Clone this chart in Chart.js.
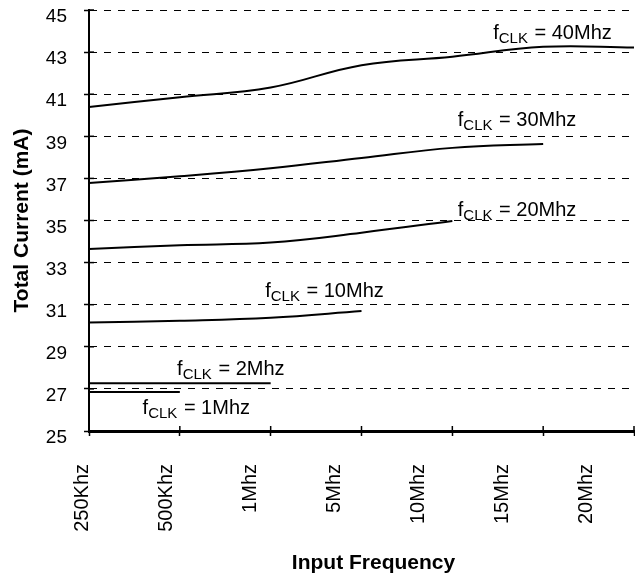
<!DOCTYPE html>
<html><head><meta charset="utf-8">
<script src="https://cdn.jsdelivr.net/npm/chart.js@4/dist/chart.umd.min.js"></script>
<style>html,body{margin:0;padding:0;background:#fff}canvas{display:block}</style>
</head><body>
<canvas id="c" width="635" height="577"></canvas>
<script>
// ---- data ----
const categories = ['250Khz', '500Khz', '1Mhz', '5Mhz', '10Mhz', '15Mhz', '20Mhz'];
const yTickValues = [25, 27, 29, 31, 33, 35, 37, 39, 41, 43, 45];
const clockNames = ['1Mhz', '2Mhz', '10Mhz', '20Mhz', '30Mhz', '40Mhz'];
const clk1 = [26.85, 26.85];
const clk2 = [27.27, 27.27, 27.27];
const clk10 = [30.16, 30.24, 30.38, 30.70];
const clk20 = [33.65, 33.83, 33.95, 34.42, 34.98];
const clk30 = [36.78, 37.10, 37.48, 37.97, 38.45, 38.64];
const clk40 = [40.39, 40.86, 41.32, 42.38, 42.78, 43.25, 43.22];
const seriesValues = [clk1, clk2, clk10, clk20, clk30, clk40];
// label anchors (category units, mA) for the fCLK annotations
const labelX = [0.59, 0.97, 1.94, 4.06, 4.06, 4.45];
const labelY = [25.81, 27.66, 31.37, 35.21, 39.49, 43.62];
const xTitle = 'Input Frequency';

const FONT = "'Liberation Sans', Arial, Helvetica, sans-serif";
Chart.defaults.font.family = FONT;
Chart.defaults.color = '#000';

const innerTicks = {
  id: 'innerTicks',
  afterDraw(chart) {
    const ctx = chart.ctx, xs = chart.scales.x, ys = chart.scales.y;
    ctx.save();
    ctx.strokeStyle = '#000';
    ctx.lineWidth = 1.5;
    ys.ticks.forEach(t => {
      const py = ys.getPixelForValue(t.value);
      ctx.beginPath(); ctx.moveTo(ys.right, py); ctx.lineTo(ys.right + 5, py); ctx.stroke();
    });
    xs.ticks.forEach((t, i) => {
      const px = xs.getPixelForTick(i);
      ctx.beginPath(); ctx.moveTo(px, xs.top); ctx.lineTo(px, xs.top - 5); ctx.stroke();
    });
    // x axis title (slightly right of centre, as in the original)
    const xl = chart.scales.xl;
    ctx.fillStyle = '#000';
    ctx.font = 'bold 21px ' + FONT;
    ctx.textAlign = 'center';
    ctx.textBaseline = 'middle';
    ctx.fillText(xTitle, (xl.left + xl.right) / 2 + 12, xl.bottom - 14);
    ctx.restore();
  }
};

const clockLabels = {
  id: 'clockLabels',
  afterDatasetsDraw(chart) {
    const ctx = chart.ctx, xs = chart.scales.x, ys = chart.scales.y;
    ctx.save();
    ctx.fillStyle = '#000';
    ctx.textBaseline = 'alphabetic';
    ctx.textAlign = 'left';
    clockNames.forEach((name, i) => {
      let px = xs.getPixelForValue(labelX[i]);
      const py = ys.getPixelForValue(labelY[i]);
      ctx.font = '20px ' + FONT;
      ctx.fillText('f', px, py);
      px += ctx.measureText('f').width;
      ctx.font = '15px ' + FONT;
      ctx.fillText('CLK', px, py + 4);
      px += ctx.measureText('CLK').width;
      ctx.font = '20px ' + FONT;
      ctx.fillText(' = ' + name, px + 1, py);
    });
    ctx.restore();
  }
};

new Chart(document.getElementById('c'), {
  type: 'line',
  data: {
    labels: categories,
    datasets: seriesValues.map((vals, i) => ({
      label: 'fCLK = ' + clockNames[i],
      data: vals,
      xAxisID: 'x',
      yAxisID: 'y',
      borderColor: '#000',
      borderWidth: 2,
      pointRadius: 0,
      fill: false,
      tension: 0.4
    }))
  },
  options: {
    responsive: false,
    animation: false,
    devicePixelRatio: 1,
    layout: { padding: { top: 10, right: 1, left: 0, bottom: 0 } },
    plugins: { legend: { display: false }, tooltip: { enabled: false } },
    scales: {
      x: {
        type: 'category', position: 'bottom', offset: false, weight: 0,
        ticks: { display: false },
        grid: { display: true, offset: false, drawOnChartArea: false, drawTicks: true, tickLength: 5, color: '#000', tickColor: '#000', tickWidth: 1.5 },
        border: { display: true, color: '#000', width: 3 },
        afterFit(s) { s.height = 6; s.paddingLeft = 0; s.paddingRight = 0; }
      },
      xl: {
        type: 'linear', position: 'bottom', weight: 1, min: 0.0833, max: 6.571,
        afterBuildTicks(s) { s.ticks = categories.map((_, i) => ({ value: i })); },
        ticks: {
          autoSkip: false, maxRotation: 90, minRotation: 90, padding: 19,
          color: '#000', font: { size: 20 },
          callback: (v) => categories[v]
        },
        grid: { display: false },
        border: { display: false },
        title: { display: false },
        afterFit(s) { s.height = 577 - 431 - 6; s.paddingLeft = 0; s.paddingRight = 0; }
      },
      y: {
        type: 'linear', position: 'left', min: 25, max: 45,
        afterBuildTicks(s) { s.ticks = yTickValues.map(v => ({ value: v })); },
        ticks: { color: '#000', font: { size: 19 }, padding: 17, labelOffset: 7 },
        grid: { color: '#000', lineWidth: 1, drawOnChartArea: true, drawTicks: true, tickLength: 5, tickColor: '#000', tickWidth: 1.5 },
        border: { display: true, color: '#000', width: 2, dash: [7, 7] },
        title: { display: true, text: 'Total Current (mA)', color: '#000', font: { size: 21, weight: 'bold' }, padding: { top: 10, bottom: 0 } },
        afterFit(s) { s.width = 89; s.paddingTop = 0; s.paddingBottom = 0; }
      }
    }
  },
  plugins: [innerTicks, clockLabels]
});
</script>
</body></html>
